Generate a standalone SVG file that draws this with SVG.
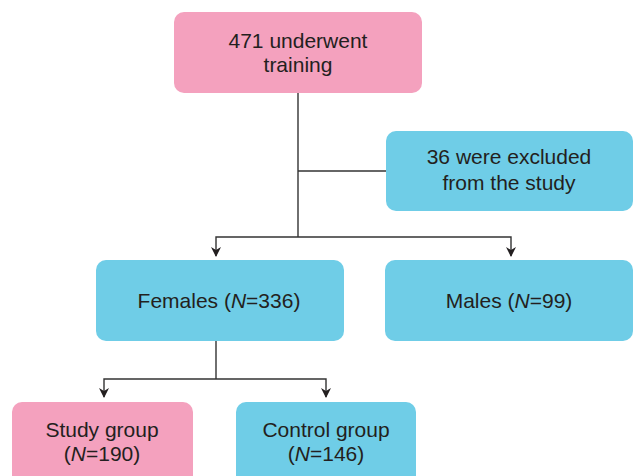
<svg xmlns="http://www.w3.org/2000/svg" width="633" height="476" viewBox="0 0 633 476">
<style>
.pink{fill:#F4A1BE}
.blue{fill:#6FCDE7}
text{font-family:"Liberation Sans",Arial,sans-serif;font-size:21px;fill:#231F20;text-anchor:middle}
.ln{fill:none;stroke:#333333;stroke-width:1.4}
</style>
<defs>
<marker id="ah" viewBox="0 0 10 10" refX="9" refY="5" markerWidth="10" markerHeight="10" markerUnits="userSpaceOnUse" orient="auto-start-reverse">
<path d="M0,0 L10,5 L0,10 L3,5 Z" fill="#231F20"/>
</marker>
</defs>
<g id="connectors">
<path class="ln" d="M298,93 V237"/>
<path class="ln" d="M298,171 H386"/>
<path class="ln" d="M216,256 V237 H511 V256" marker-start="url(#ah)" marker-end="url(#ah)"/>
<path class="ln" d="M216,341 V379"/>
<path class="ln" d="M104,397 V379 H326 V397" marker-start="url(#ah)" marker-end="url(#ah)"/>
</g>
<g id="n_trained">
<rect class="pink" x="174" y="12" width="248" height="81" rx="10"/>
<text x="298" y="48">471 underwent</text>
<text x="298" y="72">training</text>
</g>
<g id="n_excluded">
<rect class="blue" x="386" y="131" width="247" height="80" rx="10"/>
<text x="509" y="164">36 were excluded</text>
<text x="509" y="190">from the study</text>
</g>
<g id="n_females">
<rect class="blue" x="96" y="260" width="248" height="81" rx="10"/>
<text x="219" y="308">Females (<tspan font-style="italic">N</tspan>=336)</text>
</g>
<g id="n_males">
<rect class="blue" x="385" y="260" width="248" height="81" rx="10"/>
<text x="509" y="308">Males (<tspan font-style="italic">N</tspan>=99)</text>
</g>
<g id="n_study">
<rect class="pink" x="12" y="402" width="181" height="84" rx="10"/>
<text x="102" y="437">Study group</text>
<text x="102" y="461">(<tspan font-style="italic">N</tspan>=190)</text>
</g>
<g id="n_control">
<rect class="blue" x="236" y="402" width="180" height="84" rx="10"/>
<text x="326" y="437">Control group</text>
<text x="326" y="461">(<tspan font-style="italic">N</tspan>=146)</text>
</g>
</svg>
